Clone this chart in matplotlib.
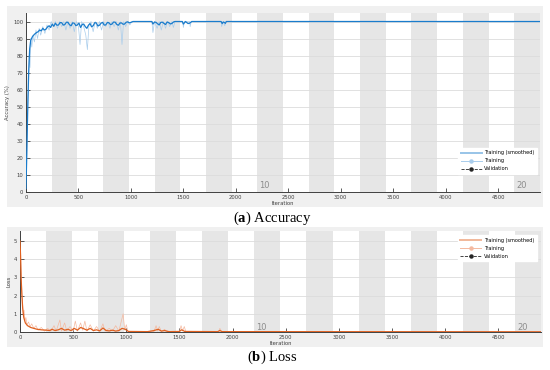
import matplotlib.pyplot as plt
from matplotlib.patches import Rectangle
from matplotlib.lines import Line2D

# iterations per epoch and total
epoch_len = 245
n_epochs = 20
max_iter = 4900

# accuracy, smoothed training (iteration, value)
acc_s_iter = [0, 8, 15, 25, 35, 45, 60, 80, 100, 115, 130, 145, 160, 175, 190, 205, 220, 235, 250,
              265, 280, 295, 310, 325, 340, 355, 370, 385, 400, 415, 430, 445, 460, 475, 490, 505,
              520, 535, 550, 565, 580, 595, 610, 625, 640, 655, 670, 685, 700, 715, 730, 745, 760,
              775, 790, 805, 820, 835, 850, 865, 880, 895, 910, 925, 940, 955, 970, 985, 1000,
              1020, 1200, 1210, 1225, 1240, 1255, 1270, 1285, 1300, 1315, 1330, 1345, 1360, 1375,
              1390, 1405, 1420, 1490, 1500, 1520, 1545, 1560, 1580, 1860, 1870, 1880, 1890, 1900,
              1910, 4900]
acc_s_val = [2, 25, 45, 70, 84, 89, 91, 92.5, 93.5, 94, 95, 94.5, 96, 95, 95.5, 96.8, 97.5, 96.5, 98.5,
             97.2, 99, 97.8, 98, 99.4, 99.3, 97.9, 98.2, 99.6, 99.5, 98.1, 97.5, 99.2, 99, 97.6, 98,
             99.1, 96.5, 98.2, 98.5, 97, 96, 97.8, 98.8, 96.9, 97.5, 99.3, 99.2, 97.4, 97.8, 99.0,
             99.5, 97.9, 98, 99.4, 99.3, 98.2, 98.5, 99.7, 99.6, 98.3, 97.8, 99.1, 99.2, 98.4,
             98.5, 99.6, 99.8, 99.2, 99.5, 100, 100, 98.5, 99.7, 99.5, 98.6, 98, 99.5, 99.6, 98.9,
             98.2, 99.7, 99.4, 98.6, 98.8, 99.7, 100, 100, 98.5, 100, 98.8, 99, 100, 100, 98.8,
             99.7, 99.5, 98.9, 100, 100]

# accuracy, raw training
acc_r_iter = [0, 5, 10, 18, 25, 30, 38, 45, 55, 65, 80, 95, 110, 125, 140, 160, 180, 200, 220, 240,
              260, 280, 300, 320, 340, 360, 380, 400, 420, 440, 460, 480, 500, 515, 530, 550, 570,
              585, 600, 620, 640, 660, 680, 700, 720, 740, 760, 780, 800, 820, 840, 860, 880, 900,
              915, 930, 950, 970, 990, 1010, 1200, 1210, 1225, 1250, 1270, 1290, 1310, 1330, 1350,
              1370, 1390, 1405, 1420, 1495, 1500, 1510, 1560, 1565, 1575, 1860, 1865, 1880, 1895,
              1905, 4900]
acc_r_val = [0, 10, 30, 55, 62, 80, 73, 90, 85, 92, 88, 95, 90, 96, 92, 97, 93, 98, 95, 100,
             97, 100, 96, 100, 97, 100, 95, 100, 96, 100, 94, 100, 97, 86.5, 100, 97, 92,
             83.5, 98, 100, 94, 100, 96, 100, 95, 100, 97, 100, 96, 100, 97, 100, 95, 100,
             86.5, 100, 97, 100, 98, 100, 100, 93.5, 100, 96, 100, 95, 100, 96, 100,
             97, 100, 96.5, 100, 100, 96.5, 100, 100, 97, 100, 100, 97, 100, 97.5,
             100, 100]

# loss, smoothed training
loss_s_iter = [0, 5, 10, 18, 25, 35, 50, 70, 100, 130, 160, 200, 250, 280, 300, 330, 360, 390, 420,
               450, 480, 510, 540, 570, 600, 630, 660, 690, 720, 750, 780, 810, 840, 870, 900, 930,
               960, 990, 1020, 1200, 1260, 1300, 1330, 1360, 1400, 1500, 1520, 1550, 1860, 1880,
               1900, 4900]
loss_s_val = [5.0, 4.2, 3.0, 2.0, 1.3, 0.8, 0.5, 0.35, 0.25, 0.2, 0.15, 0.12, 0.1, 0.08, 0.15, 0.08,
              0.12, 0.2, 0.1, 0.15, 0.08, 0.2, 0.1, 0.25, 0.18, 0.1, 0.2, 0.08, 0.12, 0.06, 0.22, 0.08,
              0.06, 0.1, 0.05, 0.08, 0.2, 0.15, 0.03, 0.02, 0.08, 0.15, 0.05, 0.08, 0.02, 0.03, 0.12,
              0.03, 0.02, 0.08, 0.02, 0.01]

# loss, raw training
loss_r_iter = [0, 5, 10, 18, 25, 30, 38, 45, 55, 65, 80, 95, 110, 130, 150, 170, 200, 230, 260, 290,
               320, 340, 375, 390, 420, 440, 470, 500, 520, 540, 570, 590, 610, 630, 660, 690, 720,
               750, 780, 800, 840, 870, 900, 930, 970, 985, 1000, 1015, 1260, 1280, 1295, 1310, 1330,
               1360, 1380, 1500, 1515, 1530, 1545, 1560, 1870, 1880, 1895, 4900]
loss_r_val = [5.2, 4.5, 3.3, 2.1, 1.5, 1.0, 1.2, 0.6, 0.8, 0.4, 0.55, 0.3, 0.45, 0.2, 0.35, 0.1, 0.25,
              0.05, 0.2, 0.05, 0.35, 0.05, 0.66, 0.05, 0.5, 0.05, 0.3, 0.05, 0.6, 0.05, 0.5, 0.1, 0.6,
              0.05, 0.4, 0.05, 0.3, 0.05, 0.45, 0.05, 0.2, 0.05, 0.35, 0.05, 1.0, 0.1, 0.4, 0.02, 0.02,
              0.35, 0.05, 0.3, 0.02, 0.15, 0.02, 0.02, 0.35, 0.05, 0.3, 0.02, 0.02, 0.2, 0.02, 0.01]

acc_yticks = list(range(0, 101, 10))
loss_yticks = [0, 1, 2, 3, 4, 5]
xticks = list(range(0, 5000, 500))
legend_labels = ["Training (smoothed)", "Training", "Validation"]

plt.rcParams['font.family'] = ['DejaVu Sans']
plt.rcParams['mathtext.fontset'] = 'custom'
plt.rcParams['mathtext.rm'] = 'Liberation Serif'
plt.rcParams['mathtext.bf'] = 'Liberation Serif:bold'

fig = plt.figure(figsize=(5.5, 3.7), dpi=100)
fig.patch.set_facecolor('white')

# gray panel backgrounds
fig.patches.append(Rectangle((0.0127, 0.4405), 0.9745, 0.5432, transform=fig.transFigure,
                             facecolor='#f0f0f0', edgecolor='none', zorder=-10))
fig.patches.append(Rectangle((0.0127, 0.0622), 0.9745, 0.3243, transform=fig.transFigure,
                             facecolor='#f0f0f0', edgecolor='none', zorder=-10))

ax1 = fig.add_axes([0.0473, 0.4811, 0.9345, 0.4838])
ax2 = fig.add_axes([0.0364, 0.1027, 0.947, 0.273])


def style_axes(ax, yticks, ylim, ylabel, epoch_y):
    ax.set_facecolor('white')
    ax.set_xlim(0, max_iter)
    ax.set_ylim(*ylim)
    ax.set_axisbelow(True)
    for e in range(n_epochs):
        if e % 2 == 1:
            ax.axvspan(e * epoch_len, (e + 1) * epoch_len, color='#e6e6e6', lw=0, zorder=0)
    ax.set_yticks(yticks)
    ax.set_xticks(xticks)
    ax.grid(axis='y', color='#dcdcdc', lw=0.6)
    ax.tick_params(direction='in', labelsize=3.8, length=3, width=0.6, colors='#404040', pad=2)
    for s in ['top', 'right']:
        ax.spines[s].set_visible(False)
    for s in ['left', 'bottom']:
        ax.spines[s].set_color('#404040')
        ax.spines[s].set_linewidth(0.7)
    ax.set_xlabel("Iteration", fontsize=3.8, labelpad=1, color='#404040')
    ax.set_ylabel(ylabel, fontsize=3.8, labelpad=2, color='#404040')
    for ep in [10, 20]:
        ax.text((ep - 1) * epoch_len + 20, epoch_y, str(ep), fontsize=6, color='#8c8c8c',
                ha='left', va='center')


style_axes(ax1, acc_yticks, (0, 105), "Accuracy (%)", 4)
style_axes(ax2, loss_yticks, (0, 5.55), "Loss", 0.27)

blue = '#1a7ccc'
blue_l = '#a9cdec'
orange = '#e0601f'
orange_l = '#f4b9a0'

ax1.plot(acc_r_iter, acc_r_val, color=blue_l, lw=0.5, zorder=2)
ax1.plot(acc_s_iter, acc_s_val, color=blue, lw=0.9, zorder=3)
ax2.plot(loss_r_iter, loss_r_val, color=orange_l, lw=0.5, zorder=2)
ax2.plot(loss_s_iter, loss_s_val, color=orange, lw=0.9, zorder=3)


def add_legend(ax, c_dark, c_light, anchor):
    handles = [Line2D([], [], color=c_dark, lw=1.4, alpha=0.45),
               Line2D([], [], color=c_light, lw=0.7, marker='o', markersize=2.2),
               Line2D([], [], color='#262626', lw=0.6, ls='--', marker='o', markersize=2.2)]
    leg = ax.legend(handles, legend_labels, loc='upper right', bbox_to_anchor=anchor,
                    fontsize=3.6, frameon=True, fancybox=False, handlelength=4.2,
                    borderpad=0.5, labelspacing=0.6, handletextpad=0.5, borderaxespad=0)
    leg.get_frame().set_edgecolor('white')
    leg.get_frame().set_facecolor('white')
    leg.get_frame().set_alpha(1)


add_legend(ax1, blue, blue_l, (0.994, 0.246))
add_legend(ax2, orange, orange_l, (0.992, 0.96))

fig.text(0.495, 1 - 218 / 370, r"($\mathbf{a}$) Accuracy", fontsize=10.5, ha='center', va='center',
         family='Liberation Serif')
fig.text(0.495, 1 - 357 / 370, r"($\mathbf{b}$) Loss", fontsize=10.5, ha='center', va='center',
         family='Liberation Serif')

fig.savefig("out.png", dpi=100)
